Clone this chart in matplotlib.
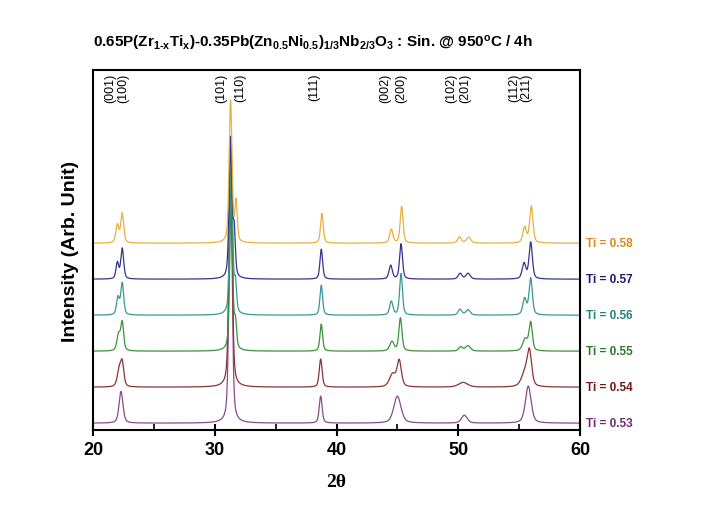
import numpy as np
import matplotlib
matplotlib.use("Agg")
import matplotlib.pyplot as plt
import matplotlib.transforms as mtransforms

plt.rcParams['font.family'] = ['Liberation Sans', 'DejaVu Sans']
plt.rcParams['mathtext.fontset'] = 'custom'
plt.rcParams['mathtext.rm'] = 'Liberation Sans:bold'
plt.rcParams['mathtext.it'] = 'Liberation Sans:bold'
plt.rcParams['mathtext.bf'] = 'Liberation Sans:bold'
plt.rcParams['mathtext.sf'] = 'Liberation Sans:bold'

# ---------------- data ----------------
series_labels = ["Ti = 0.53", "Ti = 0.54", "Ti = 0.55", "Ti = 0.56", "Ti = 0.57", "Ti = 0.58"]
line_colors = ["#8a4a8c", "#8a3434", "#3a923a", "#3a9696", "#34348e", "#e8b040"]
text_colors = ["#6e2a72", "#701818", "#2a7a2a", "#2a8080", "#1a1a70", "#d88a1a"]
offsets = [0, 100, 200, 300, 400, 500]

# peak tables per series: centre (2theta), height (a.u.), FWHM (deg)
pk_053_pos = [22.30, 31.30, 38.70, 45.00, 50.50, 55.75]
pk_053_h   = [88, 700, 75, 75, 22, 103]
pk_053_w   = [0.38, 0.30, 0.28, 0.70, 0.55, 0.55]

pk_054_pos = [22.15, 22.40, 31.30, 38.70, 44.60, 45.15, 50.40, 55.50, 55.85]
pk_054_h   = [45, 62, 670, 78, 35, 72, 13, 40, 88]
pk_054_w   = [0.38, 0.32, 0.30, 0.28, 0.60, 0.42, 0.90, 0.70, 0.42]

pk_055_pos = [22.10, 22.40, 31.35, 31.70, 38.75, 44.55, 45.25, 50.20, 50.80, 55.50, 55.95]
pk_055_h   = [45, 78, 420, 70, 75, 26, 92, 12, 15, 33, 78]
pk_055_w   = [0.32, 0.28, 0.28, 0.22, 0.26, 0.42, 0.30, 0.38, 0.48, 0.48, 0.32]

pk_056_pos = [22.05, 22.40, 31.35, 31.70, 38.75, 44.50, 45.30, 50.15, 50.80, 55.45, 55.95]
pk_056_h   = [48, 88, 420, 80, 83, 38, 115, 16, 15, 45, 102]
pk_056_w   = [0.28, 0.28, 0.28, 0.22, 0.26, 0.32, 0.28, 0.36, 0.42, 0.35, 0.32]

pk_057_pos = [22.00, 22.40, 31.30, 31.60, 38.75, 44.45, 45.30, 50.15, 50.80, 55.40, 55.95]
pk_057_h   = [45, 85, 390, 120, 83, 38, 98, 16, 16, 43, 102]
pk_057_w   = [0.26, 0.28, 0.28, 0.22, 0.26, 0.32, 0.28, 0.36, 0.42, 0.35, 0.32]

pk_058_pos = [22.00, 22.40, 31.30, 31.75, 38.80, 44.50, 45.35, 50.10, 50.85, 55.45, 56.00]
pk_058_h   = [50, 82, 395, 110, 83, 38, 102, 17, 16, 43, 102]
pk_058_w   = [0.30, 0.28, 0.28, 0.22, 0.26, 0.32, 0.28, 0.36, 0.42, 0.35, 0.32]

peak_tables = [
    (pk_053_pos, pk_053_h, pk_053_w),
    (pk_054_pos, pk_054_h, pk_054_w),
    (pk_055_pos, pk_055_h, pk_055_w),
    (pk_056_pos, pk_056_h, pk_056_w),
    (pk_057_pos, pk_057_h, pk_057_w),
    (pk_058_pos, pk_058_h, pk_058_w),
]

hkl_labels = ["(001)", "(100)", "(101)", "(110)", "(111)", "(002)", "(200)",
              "(102)", "(201)", "(112)", "(211)"]
hkl_pos = [21.4, 22.5, 30.5, 32.1, 38.2, 44.0, 45.3, 49.4, 50.6, 54.6, 55.6]

xticks = [20, 30, 40, 50, 60]

# ---------------- figure ----------------
fig = plt.figure(figsize=(7.12, 5.06), dpi=100)
ax = fig.add_axes([93/712, 1-431/506, (580-93)/712, 360/506])

tt = np.linspace(20, 60, 8001)

def pattern(pos, h, w):
    y = np.zeros_like(tt)
    for c, a, f in zip(pos, h, w):
        s = f / 2.3548
        g = np.exp(-0.5 * ((tt - c) / s) ** 2)
        lo = 1.0 / (1.0 + ((tt - c) / (f / 2)) ** 2)
        y += a * (0.55 * g + 0.45 * lo)
    return y

for (pos, h, w), off, col in zip(peak_tables, offsets, line_colors):
    ax.plot(tt, pattern(pos, h, w) + off, color=col, lw=0.9)

ax.set_xlim(20, 60)
ax.set_ylim(-19, 981)
ax.set_yticks([])
ax.set_xticks(xticks)
ax.set_xticks([25, 35, 45, 55], minor=True)
ax.tick_params(axis='x', which='major', direction='inout', length=8, width=1.5,
               labelsize=13, pad=4)
ax.tick_params(axis='x', which='minor', direction='in', length=4, width=1.2)
for lab in ax.get_xticklabels():
    lab.set_fontweight('bold')
for sp in ax.spines.values():
    sp.set_linewidth(1.5)

trans_lab = mtransforms.blended_transform_factory(ax.transAxes, ax.transData)
for lab, off, col in zip(series_labels, offsets, text_colors):
    ax.text(1.012, off, lab, transform=trans_lab, color=col, fontsize=8.5,
            fontweight='bold', va='center', ha='left', clip_on=False)

trans_hkl = mtransforms.blended_transform_factory(ax.transData, ax.transAxes)
for lab, x in zip(hkl_labels, hkl_pos):
    ax.text(x, 0.993, lab, transform=trans_hkl, rotation=90, fontsize=9,
            va='top', ha='center')

ax.set_ylabel("Intensity (Arb. Unit)", fontsize=14, fontweight='bold', labelpad=10)
ax.set_xlabel("2\u03b8", fontsize=14, fontweight='bold', family='Liberation Serif',
              labelpad=11)

title = (r"0.65P(Zr$_{\text{1-x}}$Ti$_{x}$)-0.35Pb(Zn$_{0.5}$Ni$_{0.5}$)$_{1/3}$"
         r"Nb$_{2/3}$O$_{3}$ : Sin. @ 950$^{o}$C / 4h")
fig.text(93/712, 1-44/506, title, fontsize=11, fontweight='bold',
         ha='left', va='center')

fig.savefig("out.png", dpi=100)
